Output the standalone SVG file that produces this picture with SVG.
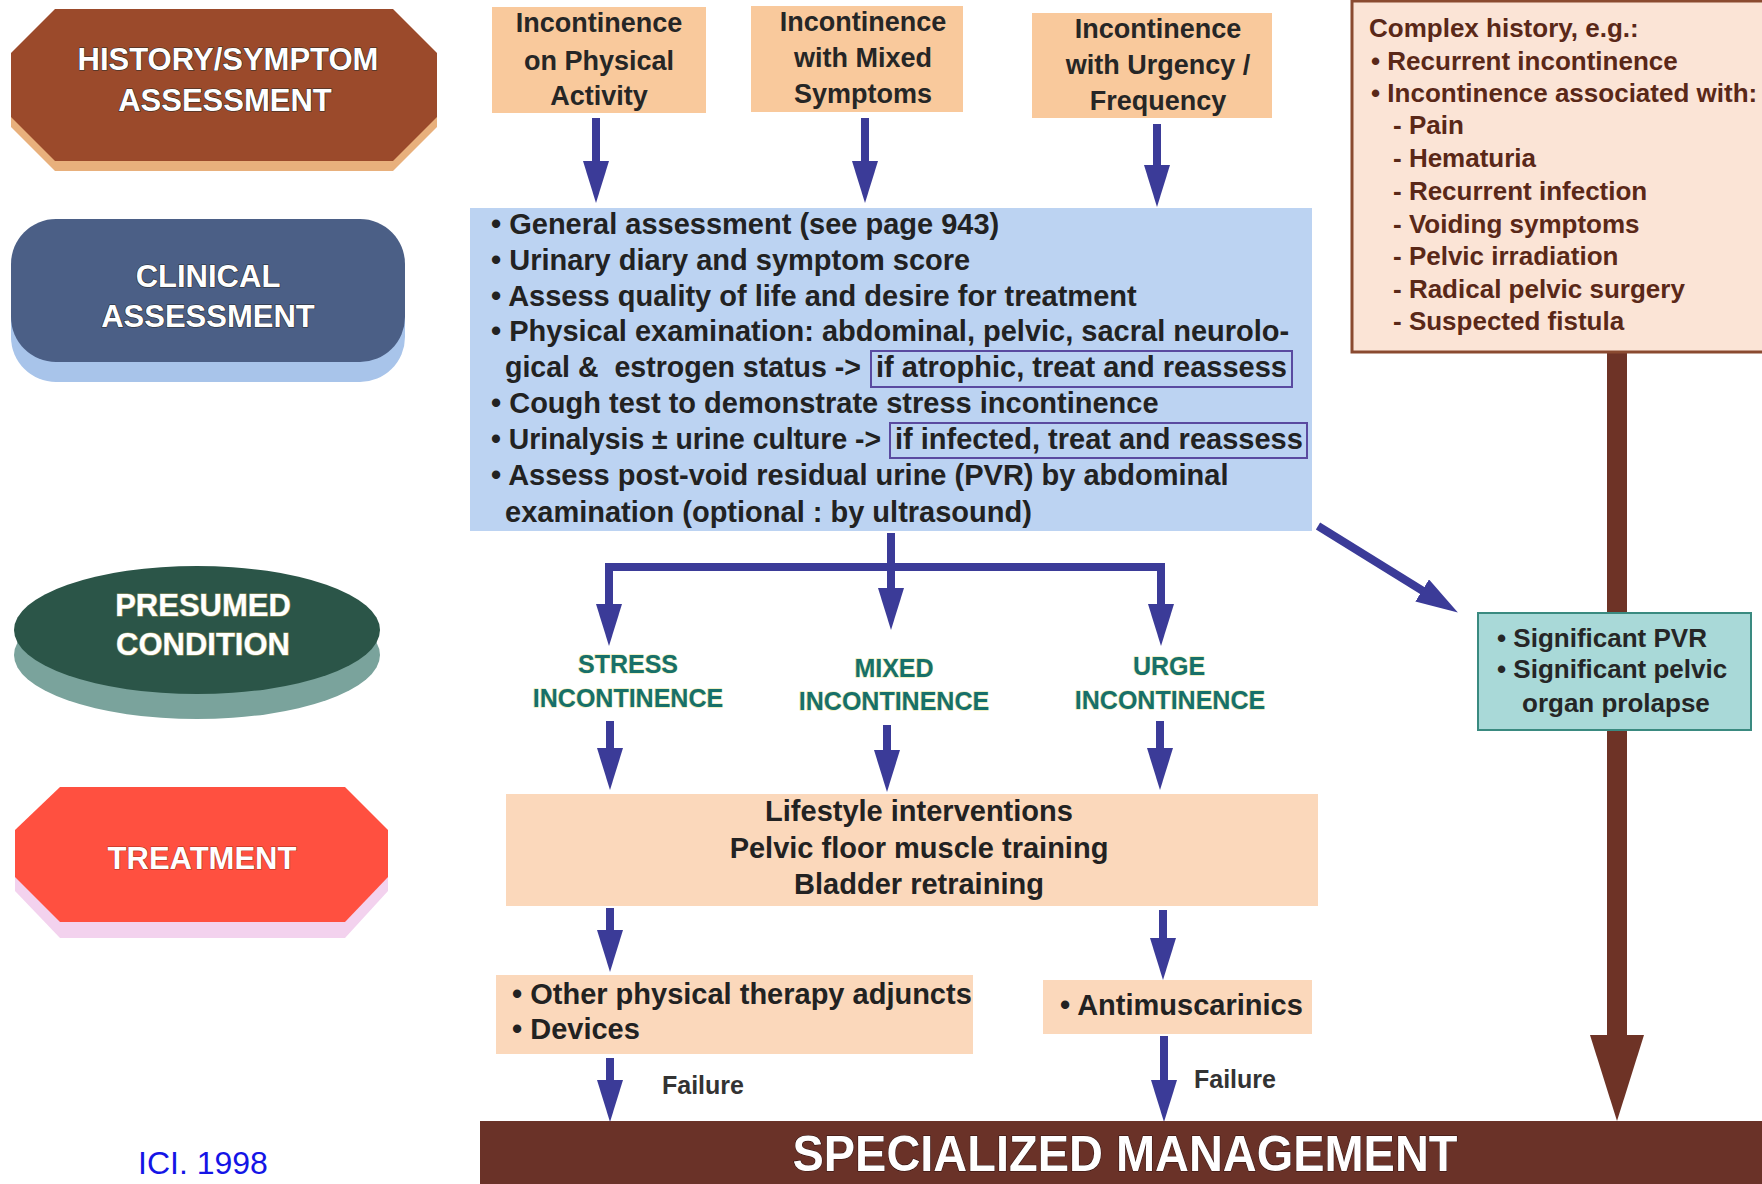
<svg xmlns="http://www.w3.org/2000/svg" width="1762" height="1184" viewBox="0 0 1762 1184">
<style>
  text { font-family: "Liberation Sans", Arial, sans-serif; font-weight: bold; }
  .stage { fill: #ffffff; font-size: 31px; text-anchor: middle; stroke: #2a2a2a; stroke-width: 1.2px; paint-order: stroke; }
  .top { fill: #262626; font-size: 27px; text-anchor: middle; }
  .body { fill: #222222; font-size: 29px; white-space: pre; }
  .hist { fill: #5a2818; font-size: 26px; }
  .cond { fill: #17706a; font-size: 25px; text-anchor: middle; stroke: #e8e8a0; stroke-width: 1px; paint-order: stroke; }
  .fail { fill: #333333; font-size: 25px; }
  .peach { fill: #f9c99c; }
  .light { fill: #fbd8bb; }
  .blue { stroke: #3b3b98; stroke-width: 8; fill: none; }
</style>
<defs>
  <marker id="ah" viewBox="0 0 42 26" refX="1" refY="13" markerWidth="42" markerHeight="26" markerUnits="userSpaceOnUse" orient="auto">
    <path d="M0,0 L42,13 L0,26 Z" fill="#3b3b98"/>
  </marker>
  <marker id="ahb" viewBox="0 0 86 54" refX="1" refY="27" markerWidth="86" markerHeight="54" markerUnits="userSpaceOnUse" orient="auto">
    <path d="M0,0 L86,27 L0,54 Z" fill="#6e3326"/>
  </marker>
</defs>
<rect width="1762" height="1184" fill="#ffffff"/>

<!-- Stage labels -->
<g id="stage-history">
  <polygon points="55,19 393,19 437,63 437,127 393,171 55,171 11,127 11,63" fill="#e8b07c"/>
  <polygon points="55,9 393,9 437,53 437,117 393,161 55,161 11,117 11,53" fill="#9b4a2b"/>
  <text class="stage" x="228" y="70">HISTORY/SYMPTOM</text>
  <text class="stage" x="225" y="111">ASSESSMENT</text>
</g>
<g id="stage-clinical">
  <rect x="11" y="239" width="394" height="143" rx="45" fill="#a8c4ea"/>
  <rect x="11" y="219" width="394" height="143" rx="45" fill="#4b5f86"/>
  <text class="stage" x="208" y="287">CLINICAL</text>
  <text class="stage" x="208" y="327">ASSESSMENT</text>
</g>
<g id="stage-presumed">
  <ellipse cx="197" cy="655" rx="183" ry="64" fill="#7aa39c"/>
  <ellipse cx="197" cy="630" rx="183" ry="64" fill="#2b5548"/>
  <text class="stage" x="203" y="616" style="stroke:#9a9a60">PRESUMED</text>
  <text class="stage" x="203" y="655" style="stroke:#9a9a60">CONDITION</text>
</g>
<g id="stage-treatment">
  <polygon points="60,801 345,801 388,844 388,891 345,938 60,938 15,891 15,844" fill="#f3d2ee"/>
  <polygon points="60,787 345,787 388,830 388,877 345,922 60,922 15,877 15,830" fill="#ff5040"/>
  <text class="stage" x="202" y="869" style="stroke:#b03020">TREATMENT</text>
</g>

<!-- Connectors -->
<g id="connectors">
  <path d="M1617,352 V1036" stroke="#6e3326" stroke-width="20" fill="none" marker-end="url(#ahb)"/>
  <path class="blue" d="M596,118 V162" marker-end="url(#ah)"/>
  <path class="blue" d="M865,118 V162" marker-end="url(#ah)"/>
  <path class="blue" d="M1157,124 V166" marker-end="url(#ah)"/>
  <path class="blue" d="M1318,526 L1423,591" marker-end="url(#ah)"/>
  <path class="blue" d="M891,533 V589" marker-end="url(#ah)"/>
  <path class="blue" d="M609,605 V567 H1161 V605" stroke-width="10"/>
  <path class="blue" d="M609,600 V605" marker-end="url(#ah)"/>
  <path class="blue" d="M1161,600 V605" marker-end="url(#ah)"/>
  <path class="blue" d="M610,721 V749" marker-end="url(#ah)"/>
  <path class="blue" d="M887,725 V751" marker-end="url(#ah)"/>
  <path class="blue" d="M1160,721 V749" marker-end="url(#ah)"/>
  <path class="blue" d="M610,908 V931" marker-end="url(#ah)"/>
  <path class="blue" d="M1163,910 V939" marker-end="url(#ah)"/>
  <path class="blue" d="M610,1058 V1081" marker-end="url(#ah)"/>
  <path class="blue" d="M1164,1036 V1081" marker-end="url(#ah)"/>
</g>

<!-- Top symptom boxes -->
<g id="box-physical">
  <rect class="peach" x="492" y="7" width="214" height="106"/>
  <text class="top" x="599" y="32">Incontinence</text>
  <text class="top" x="599" y="70">on Physical</text>
  <text class="top" x="599" y="105">Activity</text>
</g>
<g id="box-mixed">
  <rect class="peach" x="751" y="6" width="212" height="106"/>
  <text class="top" x="863" y="31">Incontinence</text>
  <text class="top" x="863" y="67">with Mixed</text>
  <text class="top" x="863" y="103">Symptoms</text>
</g>
<g id="box-urgency">
  <rect class="peach" x="1032" y="13" width="240" height="105"/>
  <text class="top" x="1158" y="38">Incontinence</text>
  <text class="top" x="1158" y="74">with Urgency /</text>
  <text class="top" x="1158" y="110">Frequency</text>
</g>

<!-- Complex history -->
<g id="box-complex">
  <rect x="1352" y="1" width="420" height="351" fill="#fbe4d6" stroke="#8a4a30" stroke-width="3"/>
  <text class="hist" x="1369" y="37">Complex history, e.g.:</text>
  <text class="hist" x="1371" y="70">• Recurrent incontinence</text>
  <text class="hist" x="1371" y="102">• Incontinence associated with:</text>
  <text class="hist" x="1393" y="134">- Pain</text>
  <text class="hist" x="1393" y="167">- Hematuria</text>
  <text class="hist" x="1393" y="200">- Recurrent infection</text>
  <text class="hist" x="1393" y="233">- Voiding symptoms</text>
  <text class="hist" x="1393" y="265">- Pelvic irradiation</text>
  <text class="hist" x="1393" y="298">- Radical pelvic surgery</text>
  <text class="hist" x="1393" y="330">- Suspected fistula</text>
</g>

<!-- Clinical assessment box -->
<g id="box-assessment">
  <rect x="470" y="208" width="842" height="323" fill="#bcd3f2"/>
  <text class="body" x="491" y="234">• General assessment (see page 943)</text>
  <text class="body" x="491" y="270">• Urinary diary and symptom score</text>
  <text class="body" x="491" y="306">• Assess quality of life and desire for treatment</text>
  <text class="body" x="491" y="341">• Physical examination: abdominal, pelvic, sacral neurolo-</text>
  <text class="body" x="505" y="377" xml:space="preserve" textLength="356" lengthAdjust="spacingAndGlyphs">gical &amp;  estrogen status -&gt;</text>
  <rect x="871" y="351" width="421" height="36" fill="none" stroke="#5a4aa0" stroke-width="2"/>
  <text class="body" x="876" y="377">if atrophic, treat and reassess</text>
  <text class="body" x="491" y="413">• Cough test to demonstrate stress incontinence</text>
  <text class="body" x="491" y="449" textLength="390" lengthAdjust="spacingAndGlyphs">• Urinalysis ± urine culture -&gt;</text>
  <rect x="890" y="423" width="417" height="35" fill="none" stroke="#5a4aa0" stroke-width="2"/>
  <text class="body" x="895" y="449">if infected, treat and reassess</text>
  <text class="body" x="491" y="485">• Assess post-void residual urine (PVR) by abdominal</text>
  <text class="body" x="505" y="522">examination (optional : by ultrasound)</text>
</g>

<!-- PVR / prolapse -->
<g id="box-pvr">
  <rect x="1478" y="613" width="273" height="117" fill="#a9d9d8" stroke="#3a8a80" stroke-width="2"/>
  <text class="hist" style="fill:#262626" x="1497" y="647">• Significant PVR</text>
  <text class="hist" style="fill:#262626" x="1497" y="678">• Significant pelvic</text>
  <text class="hist" style="fill:#262626" x="1522" y="712">organ prolapse</text>
</g>

<!-- Presumed conditions -->
<g id="cond-stress">
  <text class="cond" x="628" y="673">STRESS</text>
  <text class="cond" x="628" y="707">INCONTINENCE</text>
</g>
<g id="cond-mixed">
  <text class="cond" x="894" y="677">MIXED</text>
  <text class="cond" x="894" y="710">INCONTINENCE</text>
</g>
<g id="cond-urge">
  <text class="cond" x="1169" y="675">URGE</text>
  <text class="cond" x="1170" y="709">INCONTINENCE</text>
</g>

<!-- Treatment boxes -->
<g id="box-lifestyle">
  <rect class="light" x="506" y="794" width="812" height="112"/>
  <text class="body" x="919" y="821" text-anchor="middle">Lifestyle interventions</text>
  <text class="body" x="919" y="858" text-anchor="middle">Pelvic floor muscle training</text>
  <text class="body" x="919" y="894" text-anchor="middle">Bladder retraining</text>
</g>
<g id="box-physical-therapy">
  <rect class="light" x="496" y="975" width="477" height="79"/>
  <text class="body" x="512" y="1004">• Other physical therapy adjuncts</text>
  <text class="body" x="512" y="1039">• Devices</text>
</g>
<g id="box-antimuscarinics">
  <rect class="light" x="1043" y="980" width="269" height="54"/>
  <text class="body" x="1060" y="1015">• Antimuscarinics</text>
</g>
<g id="labels-failure">
  <text class="fail" x="662" y="1094">Failure</text>
  <text class="fail" x="1194" y="1088">Failure</text>
</g>

<!-- Specialized management -->
<g id="box-specialized">
  <rect x="480" y="1121" width="1282" height="63" fill="#6a3228"/>
  <text x="1125" y="1171" fill="#ffffff" font-size="50" text-anchor="middle" textLength="665" lengthAdjust="spacingAndGlyphs" stroke="#2a1010" stroke-width="1" paint-order="stroke">SPECIALIZED MANAGEMENT</text>
</g>

<text x="138" y="1174" fill="#1414e6" font-size="32" style="font-weight:normal">ICI. 1998</text>
</svg>
